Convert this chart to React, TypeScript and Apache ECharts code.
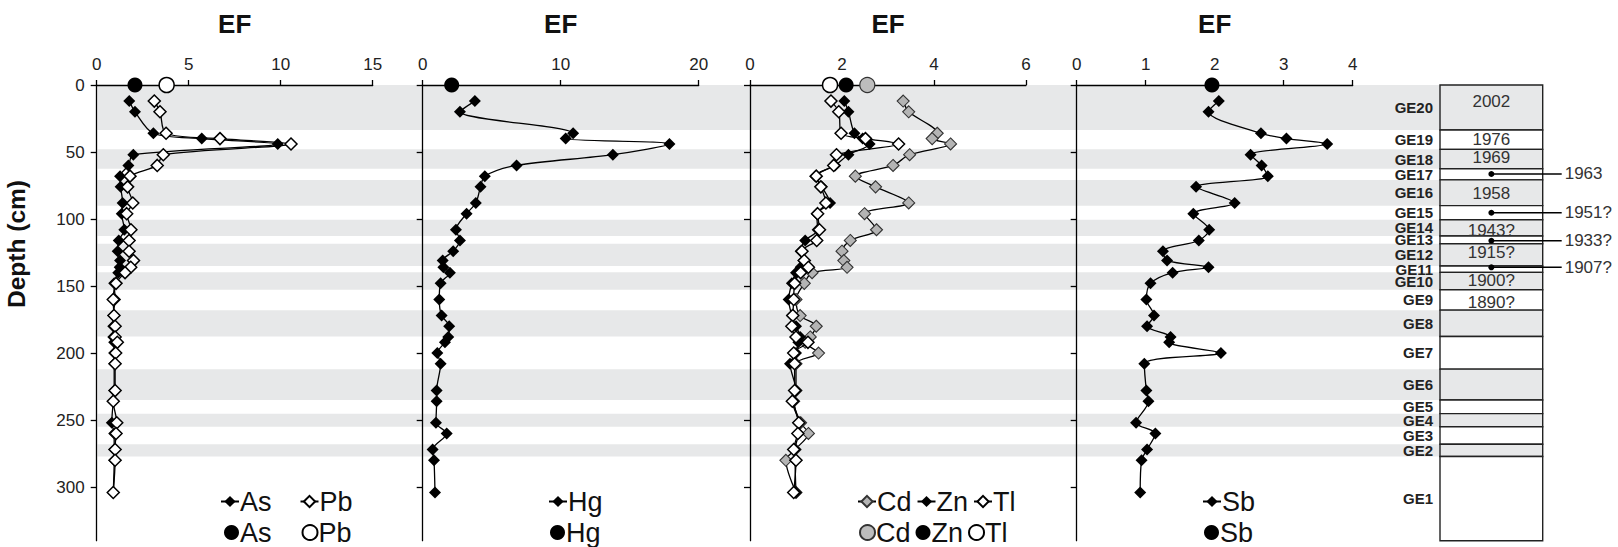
import React, { useEffect, useRef } from 'react';
import * as echarts from 'echarts';

// ---------- data ----------
const depths = [12, 20, 36, 40, 44, 52, 60, 68, 76, 88, 96, 108, 116, 124, 131, 136, 140, 148, 160, 172, 180, 188, 192, 200, 208, 228, 236, 252, 260, 272, 280, 304];
const asEF = [1.77, 2.08, 3.08, 5.71, 9.84, 1.99, 1.72, 1.27, 1.30, 1.41, 1.36, 1.50, 1.20, 1.14, 1.27, 1.25, 1.17, 0.95, 1.0, 0.9, 0.9, 0.9, 0.95, 0.95, 0.95, 0.95, 0.9, 0.82, 0.95, 0.95, 0.95, 0.9];
const pbEF = [3.13, 3.44, 3.77, 6.70, 10.56, 3.62, 3.29, 1.81, 1.68, 1.96, 1.63, 1.86, 1.76, 1.76, 2.0, 1.85, 1.54, 1.05, 0.90, 0.94, 1.0, 1.0, 1.12, 1.03, 1.0, 1.0, 0.9, 1.09, 1.05, 1.0, 1.0, 0.9];
const hgEF = [3.78, 2.70, 10.9, 10.36, 17.88, 13.78, 6.8, 4.5, 4.19, 3.85, 3.18, 2.41, 2.70, 2.21, 1.45, 1.5, 1.97, 1.30, 1.20, 1.37, 1.92, 1.85, 1.61, 1.06, 1.30, 1.01, 1.01, 0.96, 1.74, 0.72, 0.82, 0.89];
const cdEF = [3.33, 3.45, 4.07, 3.96, 4.36, 3.47, 3.11, 2.29, 2.73, 3.45, 2.49, 2.75, 2.18, 2.0, 2.04, 2.11, 1.35, 1.18, 1.0, 1.09, 1.44, 1.31, 1.2, 1.49, 1.0, 1.0, 0.95, 1.1, 1.27, 0.98, 0.78, 1.0];
const znEF = [2.05, 2.14, 2.27, 2.45, 2.6, 2.14, 1.85, 1.42, 1.56, 1.74, 1.45, 1.47, 1.2, 1.1, 1.16, 1.1, 1.0, 0.91, 0.84, 0.91, 1.0, 1.09, 1.05, 1.0, 0.87, 1.0, 0.95, 1.05, 1.05, 0.98, 0.98, 1.0];
const tlEF = [1.76, 1.93, 1.98, 2.51, 3.23, 1.88, 1.82, 1.44, 1.54, 1.65, 1.47, 1.51, 1.45, 1.13, 1.18, 1.27, 1.1, 0.97, 0.95, 0.93, 0.91, 1.0, 1.26, 0.95, 0.97, 0.97, 0.92, 1.06, 1.04, 0.95, 1.0, 0.95];
const sbEF = [2.06, 1.91, 2.67, 3.04, 3.63, 2.52, 2.68, 2.77, 1.73, 2.29, 1.69, 1.92, 1.77, 1.25, 1.31, 1.91, 1.39, 1.07, 1.01, 1.12, 1.02, 1.36, 1.34, 2.09, 0.98, 1.01, 1.04, 0.86, 1.14, 1.02, 0.94, 0.92];

// surface reference EF values (circles at depth 0)
const refAs = 2.08;
const refPb = 3.8;
const refHg = 2.1;
const refCd = 2.55;
const refZn = 2.09;
const refTl = 1.74;
const refSb = 1.96;

const xMaxes = [15, 20, 6, 4];
const xIntervals = [5, 10, 2, 1];
const yTicks = [0, 50, 100, 150, 200, 250, 300];
const depthMax = 340;

const unitNames = ['GE20', 'GE19', 'GE18', 'GE17', 'GE16', 'GE15', 'GE14', 'GE13', 'GE12', 'GE11', 'GE10', 'GE9', 'GE8', 'GE7', 'GE6', 'GE5', 'GE4', 'GE3', 'GE2', 'GE1'];
const unitBounds = [0, 33.6, 48, 62.5, 70.8, 90, 100.5, 112.7, 118.5, 135, 139.8, 152.8, 168, 187.7, 212, 235, 245.2, 255, 268, 277.2, 340];

const columnYears = ['2002', '1976', '1969', '1958', '1943?', '1915?', '1900?', '1890?'];
const columnYearDepths = [12.5, 41, 54, 80.8, 108.7, 125, 145.5, 162.5];
const markerYears = ['1963', '1951?', '1933?', '1907?'];
const markerDepths = [66.4, 95.3, 116.2, 136];

// ---------- style ----------
const FONT = '"Liberation Sans", Arial, Helvetica, sans-serif';
const BAND = '#e7e8e9';
const GRID_LEFTS = [96.7, 422.7, 750, 1076.7];
const GRID_TOP = 85;
const GRID_H = 455.7;
const GRID_W = 276;

function buildOption(): any {
  const grids: any[] = GRID_LEFTS.map((l) => ({ left: l, top: GRID_TOP, width: GRID_W, height: GRID_H }));
  grids.push({ left: 97.5, top: GRID_TOP, width: 1440 - 97.5, height: GRID_H }); // bands
  grids.push({ left: 1440, top: GRID_TOP, width: 102.7, height: GRID_H }); // column

  const axisLine = { show: true, onZero: false, lineStyle: { color: '#000', width: 1.3 } };
  const xAxes: any[] = xMaxes.map((mx, i) => ({
    gridIndex: i,
    type: 'value',
    position: 'top',
    min: 0,
    max: mx,
    interval: xIntervals[i],
    axisLine,
    axisTick: { show: true, inside: false, length: 5, lineStyle: { color: '#000', width: 1.3 } },
    axisLabel: { fontSize: 17, color: '#222', margin: 12, fontFamily: FONT },
    splitLine: { show: false },
    name: 'EF',
    nameLocation: 'middle',
    nameGap: 48,
    nameTextStyle: { fontSize: 26, fontWeight: 'bold', color: '#111', fontFamily: FONT },
    z: 1,
  }));
  const yAxes: any[] = xMaxes.map((_, i) => ({
    gridIndex: i,
    type: 'value',
    inverse: true,
    min: 0,
    max: depthMax,
    interval: 50,
    axisLine,
    axisTick: { show: true, length: 6, customValues: yTicks, lineStyle: { color: '#000', width: 1.3 } },
    axisLabel: {
      show: i === 0,
      customValues: yTicks,
      fontSize: 17,
      color: '#222',
      margin: 12,
      fontFamily: FONT,
    },
    splitLine: { show: false },
    z: 1,
  }));
  for (const g of [4, 5]) {
    xAxes.push({ gridIndex: g, type: 'value', min: 0, max: 1, show: false });
    yAxes.push({ gridIndex: g, type: 'value', inverse: true, min: 0, max: depthMax, show: false });
  }

  const lineS = (name: string, vals: number[], g: number, itemStyle: any, z = 3) => ({
    type: 'line',
    name,
    xAxisIndex: g,
    yAxisIndex: g,
    data: vals.map((v, i) => [v, depths[i]]),
    symbol: 'diamond',
    symbolSize: 12,
    smooth: 0.3,
    lineStyle: { color: '#000', width: 1.3 },
    itemStyle: { opacity: 1, ...itemStyle },
    z,
    clip: false,
  });
  const refS = (name: string, v: number, g: number, itemStyle: any) => ({
    type: 'scatter',
    name,
    xAxisIndex: g,
    yAxisIndex: g,
    data: [[v, 0]],
    symbol: 'circle',
    symbolSize: 15,
    itemStyle: { opacity: 1, ...itemStyle },
    z: 6,
    clip: false,
  });
  const black = { color: '#000' };
  const white = { color: '#fff', borderColor: '#000', borderWidth: 1.5 };
  const gray = { color: '#b4b4b4', borderColor: '#333', borderWidth: 1.1 };
  const grayC = { color: '#bdbdbd', borderColor: '#333', borderWidth: 1.2 };

  const bandData = unitNames
    .map((_, i) => [0, unitBounds[i], unitBounds[i + 1], i])
    .filter((d) => (d[3] as number) % 2 === 0);

  const series: any[] = [
    {
      type: 'custom',
      name: 'bands',
      xAxisIndex: 4,
      yAxisIndex: 4,
      z: 0,
      silent: true,
      clip: false,
      data: bandData,
      renderItem: (params: any, api: any) => {
        const cs = params.coordSys;
        const y1 = api.coord([0, api.value(1)])[1];
        const y2 = api.coord([0, api.value(2)])[1];
        return { type: 'rect', shape: { x: cs.x, y: y1, width: cs.width, height: y2 - y1 }, style: { fill: BAND } };
      },
    },
    {
      type: 'custom',
      name: 'column',
      xAxisIndex: 5,
      yAxisIndex: 5,
      z: 2,
      silent: true,
      clip: false,
      data: unitNames.map((_, i) => [0, unitBounds[i], unitBounds[i + 1]]),
      renderItem: (params: any, api: any) => {
        const cs = params.coordSys;
        const i = params.dataIndex;
        const y1 = api.coord([0, api.value(1)])[1];
        const y2 = api.coord([0, api.value(2)])[1];
        return {
          type: 'group',
          children: [
            {
              type: 'rect',
              shape: { x: cs.x, y: y1, width: cs.width, height: y2 - y1 },
              style: { fill: i % 2 === 0 ? BAND : '#fff', stroke: '#222', lineWidth: 1.4 },
            },
            {
              type: 'text',
              x: cs.x - 7,
              y: (y1 + y2) / 2,
              style: {
                text: unitNames[i],
                fill: '#222',
                font: `bold 15px ${FONT}`,
                textAlign: 'right',
                textVerticalAlign: 'middle',
                align: 'right',
                verticalAlign: 'middle',
              },
            },
          ],
        };
      },
    },
    {
      type: 'custom',
      name: 'years',
      xAxisIndex: 5,
      yAxisIndex: 5,
      z: 4,
      silent: true,
      clip: false,
      data: columnYearDepths.map((d) => [0, d]),
      renderItem: (params: any, api: any) => {
        const cs = params.coordSys;
        const y = api.coord([0, api.value(1)])[1];
        return {
          type: 'text',
          x: cs.x + cs.width / 2,
          y,
          style: {
            text: columnYears[params.dataIndex],
            fill: '#333',
            font: `17px ${FONT}`,
            textAlign: 'center',
            textVerticalAlign: 'middle',
            align: 'center',
            verticalAlign: 'middle',
          },
        };
      },
    },
    {
      type: 'custom',
      name: 'markers',
      xAxisIndex: 5,
      yAxisIndex: 5,
      z: 5,
      silent: true,
      clip: false,
      data: markerDepths.map((d) => [0, d]),
      renderItem: (params: any, api: any) => {
        const cs = params.coordSys;
        const y = api.coord([0, api.value(1)])[1];
        const cx = cs.x + cs.width / 2;
        const x2 = cs.x + cs.width + 19;
        return {
          type: 'group',
          children: [
            { type: 'line', shape: { x1: cx, y1: y, x2, y2: y }, style: { stroke: '#000', lineWidth: 1.5 } },
            { type: 'circle', shape: { cx, cy: y, r: 3 }, style: { fill: '#000' } },
            {
              type: 'text',
              x: x2 + 3,
              y,
              style: {
                text: markerYears[params.dataIndex],
                fill: '#333',
                font: `17px ${FONT}`,
                textAlign: 'left',
                textVerticalAlign: 'middle',
                align: 'left',
                verticalAlign: 'middle',
              },
            },
          ],
        };
      },
    },
    lineS('As_d', asEF, 0, black),
    lineS('Pb_d', pbEF, 0, white, 4),
    refS('As_c', refAs, 0, black),
    refS('Pb_c', refPb, 0, { color: '#fff', borderColor: '#000', borderWidth: 1.5 }),
    lineS('Hg_d', hgEF, 1, black),
    refS('Hg_c', refHg, 1, black),
    lineS('Cd_d', cdEF, 2, gray, 3),
    lineS('Zn_d', znEF, 2, black, 4),
    lineS('Tl_d', tlEF, 2, white, 5),
    refS('Tl_c', refTl, 2, { color: '#fff', borderColor: '#000', borderWidth: 1.5 }),
    refS('Zn_c', refZn, 2, black),
    refS('Cd_c', refCd, 2, grayC),
    lineS('Sb_d', sbEF, 3, black),
    refS('Sb_c', refSb, 3, black),
  ];

  const legCommon = {
    orient: 'horizontal',
    selectedMode: false,
    padding: 0,
    itemWidth: 18,
    itemHeight: 14,
    formatter: (n: string) => n.split('_')[0],
    textStyle: { fontSize: 27, color: '#111', fontFamily: FONT, padding: [0, 0, 0, -4] },
  };
  const circ = { itemWidth: 15, itemHeight: 15 };
  const ROW1 = 488;
  const ROW2 = 519;
  const legend = [
    { ...legCommon, data: ['As_d', 'Pb_d'], left: 220, top: ROW1, itemGap: 28 },
    { ...legCommon, ...circ, data: ['As_c', 'Pb_c'], left: 224, top: ROW2, itemGap: 30 },
    { ...legCommon, data: ['Hg_d'], left: 548, top: ROW1 },
    { ...legCommon, ...circ, data: ['Hg_c'], left: 550, top: ROW2 },
    { ...legCommon, data: ['Cd_d', 'Zn_d', 'Tl_d'], left: 857, top: ROW1, itemGap: 5 },
    { ...legCommon, ...circ, data: ['Cd_c', 'Zn_c', 'Tl_c'], left: 859, top: ROW2, itemGap: 5 },
    { ...legCommon, data: ['Sb_d'], left: 1202, top: ROW1 },
    { ...legCommon, ...circ, data: ['Sb_c'], left: 1204, top: ROW2 },
  ];

  return {
    animation: false,
    backgroundColor: '#fff',
    textStyle: { fontFamily: FONT },
    grid: grids,
    xAxis: xAxes,
    yAxis: yAxes,
    legend,
    series,
    graphic: [
      {
        type: 'text',
        x: 16,
        y: 244,
        rotation: Math.PI / 2,
        style: {
          text: 'Depth (cm)',
          font: `bold 24.5px ${FONT}`,
          fill: '#111',
          textAlign: 'center',
          textVerticalAlign: 'middle',
          align: 'center',
          verticalAlign: 'middle',
        },
      },
    ],
  };
}

export default function App() {
  const ref = useRef<HTMLDivElement>(null);
  useEffect(() => {
    if (!ref.current) return;
    const chart = echarts.init(ref.current, undefined, { renderer: 'svg' });
    chart.setOption(buildOption());
    return () => chart.dispose();
  }, []);
  return <div ref={ref} style={{ position: 'absolute', left: 0, top: 0, width: 1618, height: 547 }} />;
}
